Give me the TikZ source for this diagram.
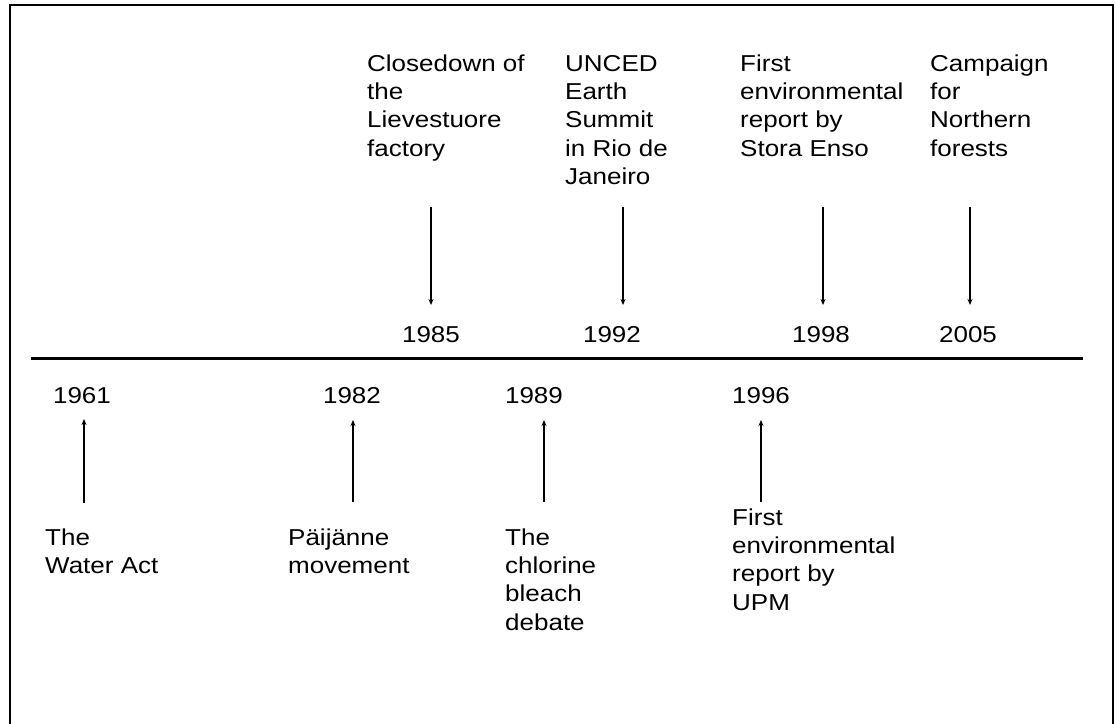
\documentclass[tikz,border=0pt]{standalone}
\usepackage{fontspec}
\setmainfont{Liberation Sans}[FakeStretch=1.13]
\usetikzlibrary{arrows.meta}
\newcommand{\firststrut}{\rule{0pt}{17pt}}
\begin{document}
\begin{tikzpicture}[x=1pt,y=-1pt,
  lbl/.style={anchor=north west,inner sep=0pt,align=left,font=\fontsize{23}{28.3}\selectfont},
  yr/.style={anchor=base,inner sep=0pt,font=\fontsize{23}{28.3}\selectfont},
  evarrow/.style={line width=1.2pt,-{Stealth[length=6pt,width=5pt]}},
  frameline/.style={line width=2.6pt},
  axis/.style={line width=3pt}]
\useasboundingbox (0,0) rectangle (1116,723);
\clip (0,0) rectangle (1116,723);
% frame
\draw[frameline] (10,740) -- (10,5) -- (1113,5) -- (1113,740);
% timeline
\coordinate (tl0) at (31,358);
\coordinate (tl1) at (1083,358);
\draw[axis] (tl0) -- (tl1);
% top events (first baseline at y=71)
\node[lbl] (closedown) at (367,54) {\firststrut Closedown of\\the\\Lievestuore\\factory};
\node[lbl] (unced) at (565,54) {\firststrut UNCED\\Earth\\Summit\\in Rio de\\Janeiro};
\node[lbl] (stora) at (740,54) {\firststrut First\\environmental\\report by\\Stora Enso};
\node[lbl] (campaign) at (930,54) {\firststrut Campaign\\for\\Northern\\forests};
\node[yr] (y1985) at (431,342) {1985};
\node[yr] (y1992) at (612,342) {1992};
\node[yr] (y1998) at (821,342) {1998};
\node[yr] (y2005) at (968,342) {2005};
\coordinate (a85s) at (431,207); \coordinate (a85e) at (431,305);
\coordinate (a92s) at (623,207); \coordinate (a92e) at (623,305);
\coordinate (a98s) at (823,207); \coordinate (a98e) at (823,305);
\coordinate (a05s) at (970,207); \coordinate (a05e) at (970,305);
\draw[evarrow] (a85s) -- (a85e);
\draw[evarrow] (a92s) -- (a92e);
\draw[evarrow] (a98s) -- (a98e);
\draw[evarrow] (a05s) -- (a05e);
% bottom events
\node[yr] (y1961) at (82,403) {1961};
\node[yr] (y1982) at (352,403) {1982};
\node[yr] (y1989) at (534,403) {1989};
\node[yr] (y1996) at (761,403) {1996};
\node[lbl] (water) at (45,528) {\firststrut The\\Water Act};
\node[lbl] (paijanne) at (288,528) {\firststrut Päijänne\\movement};
\node[lbl] (chlorine) at (505,528) {\firststrut The\\chlorine\\bleach\\debate};
\node[lbl] (upm) at (732,508) {\firststrut First\\environmental\\report by\\UPM};
\coordinate (a61s) at (84,503); \coordinate (a61e) at (84,419);
\coordinate (a82s) at (353,502); \coordinate (a82e) at (353,420);
\coordinate (a89s) at (544,502); \coordinate (a89e) at (544,420);
\coordinate (a96s) at (761,502); \coordinate (a96e) at (761,420);
\draw[evarrow] (a61s) -- (a61e);
\draw[evarrow] (a82s) -- (a82e);
\draw[evarrow] (a89s) -- (a89e);
\draw[evarrow] (a96s) -- (a96e);
\end{tikzpicture}
\end{document}
